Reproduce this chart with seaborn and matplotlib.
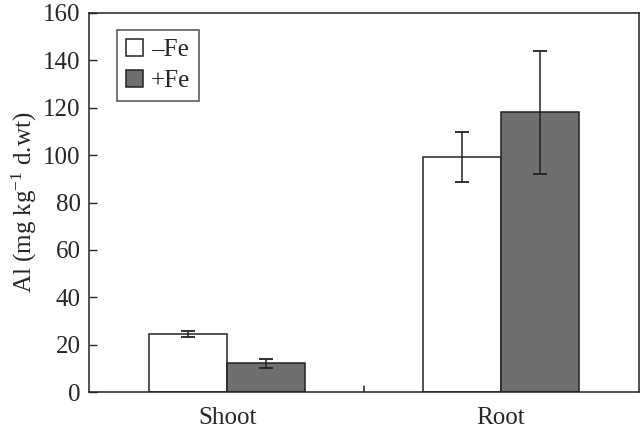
import pandas as pd
import seaborn as sns
import matplotlib.pyplot as plt

# values
organs = ["Shoot", "Shoot", "Root", "Root"]
treatments = ["\u2013Fe", "+Fe", "\u2013Fe", "+Fe"]
al_means = [24.7, 12.2, 99.2, 118.0]
al_errors = [1.3, 2.0, 10.5, 26.0]

df = pd.DataFrame({"organ": organs, "treatment": treatments,
                   "al": al_means, "err": al_errors})

sns.set_style("ticks")
plt.rcParams["font.family"] = ["Liberation Serif", "DejaVu Serif"]
plt.rcParams["mathtext.fontset"] = "custom"
plt.rcParams["mathtext.rm"] = "Liberation Serif"
plt.rcParams["mathtext.it"] = "Liberation Serif:italic"

fig = plt.figure(figsize=(6.4, 4.3), dpi=100)
ax = fig.add_axes([0.139, 0.088, 0.859, 0.882])

sns.barplot(data=df, x="organ", y="al", hue="treatment",
            palette=["white", "#6f6f6f"], edgecolor="#222222",
            linewidth=1.1, width=0.57, gap=0, errorbar=None, ax=ax)

# error bars at bar centres
for container, (_, sub) in zip(ax.containers, df.groupby("treatment", sort=False)):
    xs = [p.get_x() + p.get_width() / 2 for p in container]
    ax.errorbar(xs, sub["al"].values, yerr=sub["err"].values, fmt="none",
                ecolor="#222222", elinewidth=1.1, capsize=5, capthick=1.3)

ax.set_ylim(0, 160)
ax.set_xlim(-0.505, 1.505)
ax.set_yticks(range(0, 161, 20))
ax.set_xticks([0, 1])
ax.set_xticklabels(["Shoot", "Root"])
ax.tick_params(axis="x", length=0, labelsize=18, pad=11)
ax.tick_params(axis="y", direction="in", length=6, width=1, labelsize=18, pad=6)
# single inward tick between the groups
ax.plot([0.5, 0.5], [0, 2.6], color="#222222", lw=1.1)

ax.set_xlabel("")
ax.set_ylabel("Al (mg kg$^{-1}$ d.wt)", fontsize=18, labelpad=3)
for s in ax.spines.values():
    s.set_visible(True)
    s.set_linewidth(1.1)
    s.set_color("#222222")

leg = ax.legend(loc="upper left", bbox_to_anchor=(0.051, 0.955), fontsize=18,
                frameon=True, fancybox=False, edgecolor="#222222",
                handlelength=0.7, handleheight=0.7, handletextpad=0.3,
                borderpad=0.35, labelspacing=0.35, borderaxespad=0)
leg.get_frame().set_linewidth(1.1)

plt.savefig("out.png", dpi=100)
